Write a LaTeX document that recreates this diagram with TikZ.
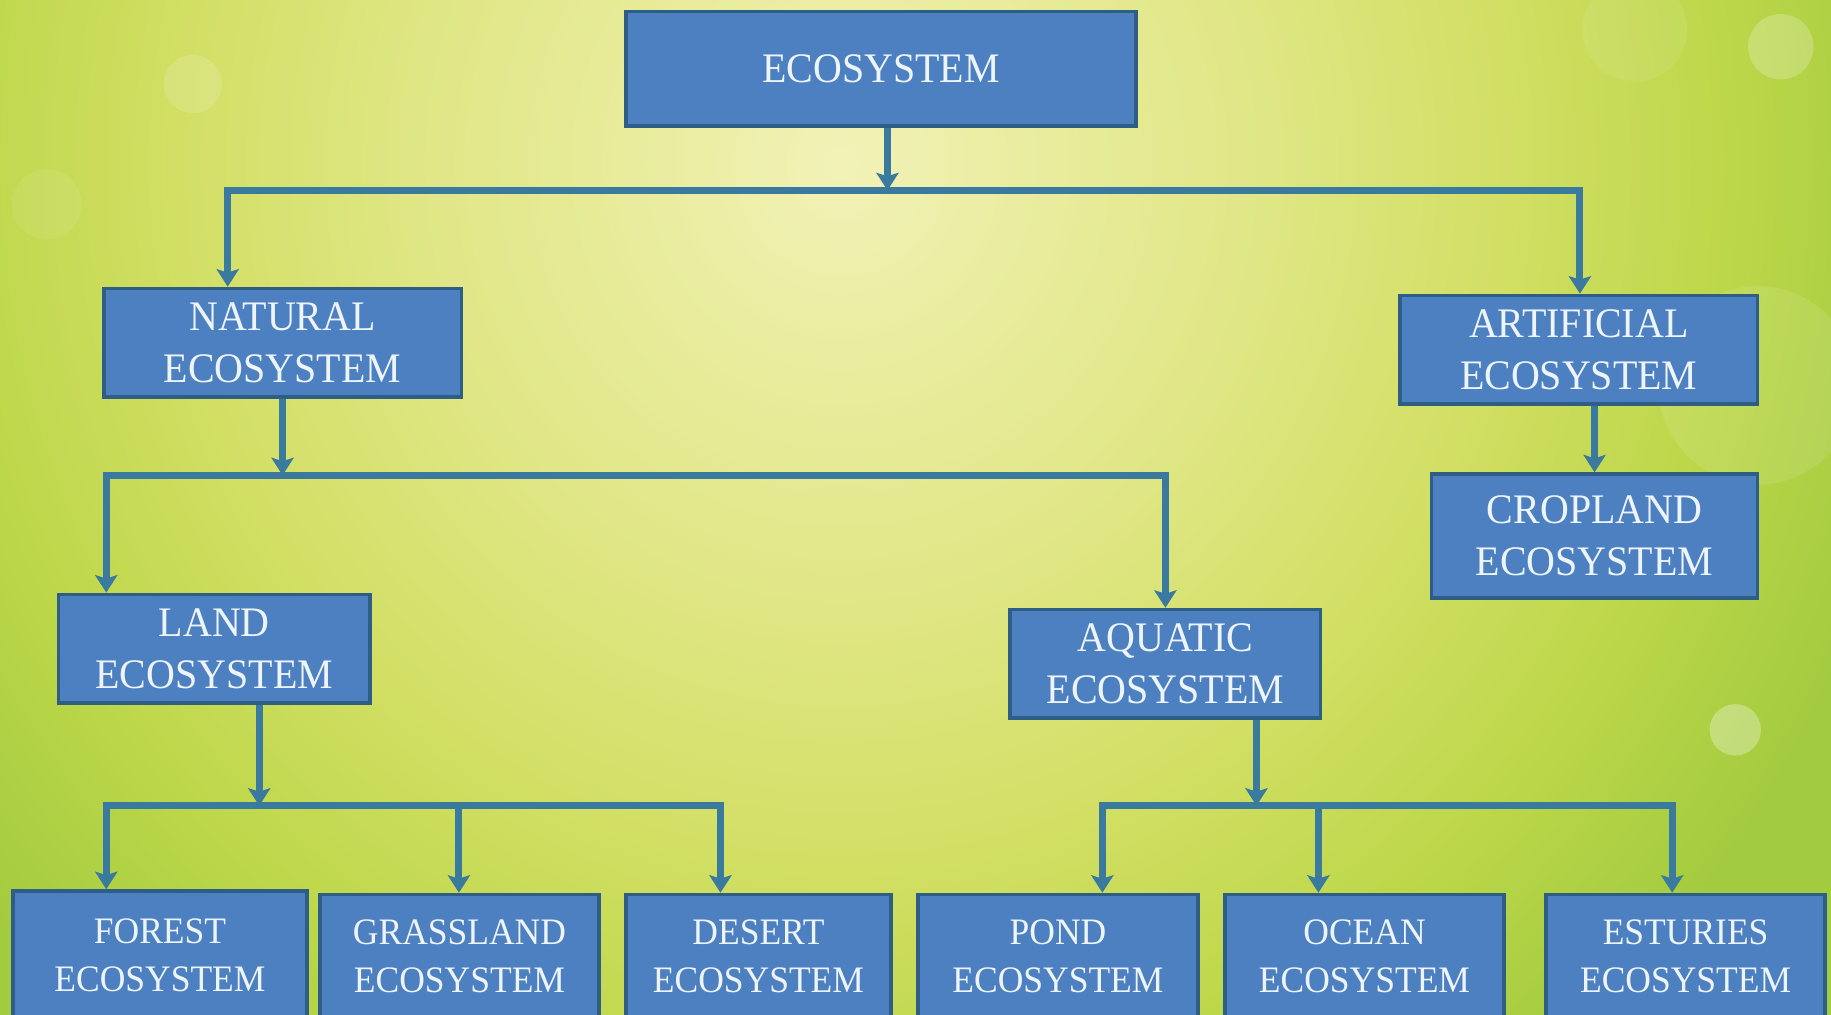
\documentclass[tikz,border=0pt]{standalone}
\usepackage{fontspec}
\newfontfamily\boxfont[FakeStretch=0.95]{Liberation Serif}
\usetikzlibrary{arrows.meta}
\definecolor{boxfill}{HTML}{4D80C0}
\definecolor{boxline}{HTML}{2E5D86}
\definecolor{connc}{HTML}{3A7A9E}
\definecolor{txt}{HTML}{EEF4FB}
\definecolor{bga}{HTML}{F2F2B8}
\definecolor{bgb}{HTML}{EAEDA0}
\definecolor{bgc}{HTML}{E1E788}
\definecolor{bgd}{HTML}{D2DF64}
\definecolor{bgf}{HTML}{BDD74A}
\definecolor{bge}{HTML}{A3CB3F}
\pgfdeclareradialshading{bgshade}{\pgfpoint{0bp}{0bp}}{color(0bp)=(bga); color(4bp)=(bgb); color(9bp)=(bgc); color(15bp)=(bgd); color(20bp)=(bgf); color(25bp)=(bge); color(50bp)=(bge)}
\tikzset{
  box/.style={draw=boxline, line width=3pt, fill=boxfill, text=txt, align=center, inner sep=0pt,
    font=\boxfont\fontsize{36}{45}\selectfont},
  sbox/.style={box, font=\boxfont\fontsize{32}{41}\selectfont},
  wire/.style={draw=connc, line width=6pt},
  arr/.style={wire, -{Stealth[length=15pt,width=19pt,inset=3pt]}},
  bokeh/.style={fill=white}
}
\begin{document}
\begin{tikzpicture}[x=1pt,y=-1pt]
\useasboundingbox (0,0) rectangle (1568,869);
\begin{scope}
  \clip (0,0) rectangle (1568,869);
  \fill[bge] (0,0) rectangle (1568,869);
  \shade[shading=bgshade] (720,140) ellipse [x radius=950, y radius=1000];
  \fill[bokeh, opacity=0.22] (1525,40) circle (28);
  \fill[bokeh, opacity=0.10] (1505,330) circle (85);
  \fill[bokeh, opacity=0.30] (1486,625) circle (22);
  \fill[bokeh, opacity=0.15] (165,72) circle (25);
  \fill[bokeh, opacity=0.08] (1400,25) circle (45);
  \fill[bokeh, opacity=0.08] (40,175) circle (30);
\end{scope}

% nodes
\node[box, minimum width=437pt, minimum height=98pt] (eco) at (754.5,59) {ECOSYSTEM};
\node[box, minimum width=306pt, minimum height=93pt] (nat) at (242,293.5) {NATURAL\\ECOSYSTEM};
\node[box, minimum width=306pt, minimum height=93pt] (art) at (1352,299.5) {ARTIFICIAL\\ECOSYSTEM};
\node[box, minimum width=279pt, minimum height=106pt] (crop) at (1365.5,459) {CROPLAND\\ECOSYSTEM};
\node[box, minimum width=267pt, minimum height=93pt] (land) at (183.5,555.5) {LAND\\ECOSYSTEM};
\node[box, minimum width=266pt, minimum height=93pt] (aqu) at (998,568.5) {AQUATIC\\ECOSYSTEM};

\node[sbox, minimum width=252pt, minimum height=110pt] (forest) at (137,818) {FOREST\\ECOSYSTEM};
\node[sbox, minimum width=239pt, minimum height=106pt] (grass) at (393.5,819) {GRASSLAND\\ECOSYSTEM};
\node[sbox, minimum width=227pt, minimum height=106pt] (desert) at (649.5,819) {DESERT\\ECOSYSTEM};
\node[sbox, minimum width=240pt, minimum height=106pt] (pond) at (906,819) {POND\\ECOSYSTEM};
\node[sbox, minimum width=239pt, minimum height=106pt] (ocean) at (1168.5,819) {OCEAN\\ECOSYSTEM};
\node[sbox, minimum width=239pt, minimum height=106pt] (estur) at (1443.5,819) {ESTURIES\\ECOSYSTEM};

% level 1
\coordinate (j1) at (760,163);
\coordinate (b1L) at (195,163);
\coordinate (b1R) at (1353,163);
\draw[arr] (eco.south -| j1) -- (j1);
\draw[wire, line cap=rect] (b1L) -- (b1R);
\draw[arr] (b1L) -- (b1L |- nat.north);
\draw[arr] (b1R) -- (b1R |- art.north);

% level 2
\coordinate (j2) at (242,407);
\coordinate (b2L) at (91,407);
\coordinate (b2R) at (998,407);
\draw[arr] (nat.south -| j2) -- (j2);
\draw[wire, line cap=rect] (b2L) -- (b2R);
\draw[arr] (b2L) -- (b2L |- land.north);
\draw[arr] (b2R) -- (b2R |- aqu.north);
\draw[arr] (art.south -| crop.north) -- (crop.north);

% level 3 left
\coordinate (j4) at (222,690);
\coordinate (b4L) at (91,690);
\coordinate (b4M) at (393,690);
\coordinate (b4R) at (617,690);
\draw[arr] (land.south -| j4) -- (j4);
\draw[wire, line cap=rect] (b4L) -- (b4R);
\draw[arr] (b4L) -- (b4L |- forest.north);
\draw[arr] (b4M) -- (b4M |- grass.north);
\draw[arr] (b4R) -- (b4R |- desert.north);

% level 3 right
\coordinate (j5) at (1076,690);
\coordinate (b5L) at (944,690);
\coordinate (b5M) at (1129,690);
\coordinate (b5R) at (1432,690);
\draw[arr] (aqu.south -| j5) -- (j5);
\draw[wire, line cap=rect] (b5L) -- (b5R);
\draw[arr] (b5L) -- (b5L |- pond.north);
\draw[arr] (b5M) -- (b5M |- ocean.north);
\draw[arr] (b5R) -- (b5R |- estur.north);
\end{tikzpicture}
\end{document}
